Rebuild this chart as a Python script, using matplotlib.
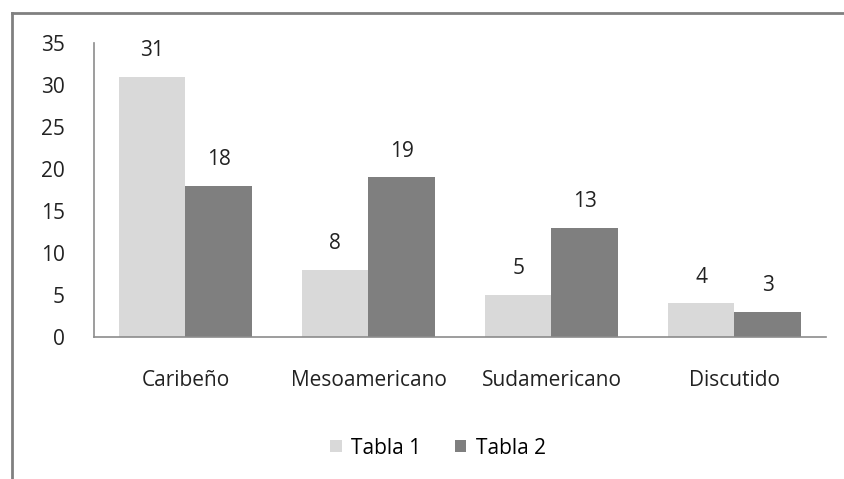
import numpy as np
import matplotlib.pyplot as plt
from matplotlib.lines import Line2D

categorias = ['Caribeño', 'Mesoamericano', 'Sudamericano', 'Discutido']
tabla1 = [31, 8, 5, 4]
tabla2 = [18, 19, 13, 3]
series = ['Tabla 1', 'Tabla 2']

plt.rcParams['font.family'] = ['Open Sans', 'DejaVu Sans']

fig = plt.figure(figsize=(8.45, 4.79), dpi=100)
ax = fig.add_axes([94 / 845, 1 - 337 / 479, (826 - 94) / 845, (337 - 43) / 479])

x = np.arange(len(categorias))
w = 0.3635
b1 = ax.bar(x - w / 2, tabla1, w, color='#d9d9d9', label=series[0])
b2 = ax.bar(x + w / 2, tabla2, w, color='#7f7f7f', label=series[1])

# etiquetas de valor encima de cada barra
for bars in (b1, b2):
    for r in bars:
        ax.annotate(str(int(r.get_height())), (r.get_x() + r.get_width() / 2, r.get_height()),
                    xytext=(0, 19), textcoords='offset points', ha='center', va='center',
                    fontsize=15, color='#222222')

ax.set_xlim(-0.5, len(categorias) - 0.5)
ax.set_ylim(0, 35)
ax.set_yticks(range(0, 36, 5))
ax.set_xticks(x)
ax.set_xticklabels(categorias)
ax.tick_params(axis='both', length=0, labelsize=15, colors='#222222')
ax.tick_params(axis='y', pad=21)
ax.tick_params(axis='x', pad=24)
for s in ('top', 'right'):
    ax.spines[s].set_visible(False)
for s in ('left', 'bottom'):
    ax.spines[s].set_color('#8c8c8c')
    ax.spines[s].set_linewidth(1.2)

fig.legend(handles=[b1, b2], loc='center', bbox_to_anchor=(438 / 845, 1 - 448 / 479),
           ncol=2, frameon=False, fontsize=15, handlelength=0.55, handleheight=0.55,
           handletextpad=0.45, columnspacing=1.6)

# borde del gráfico (solo izquierda y arriba visibles)
fig.add_artist(Line2D([12 / 845, 12 / 845], [0, 1 - 13 / 479], transform=fig.transFigure,
                      color='#808080', linewidth=2))
fig.add_artist(Line2D([12 / 845, 1], [1 - 13 / 479, 1 - 13 / 479], transform=fig.transFigure,
                      color='#808080', linewidth=2))

fig.savefig('out.png', dpi=100)
